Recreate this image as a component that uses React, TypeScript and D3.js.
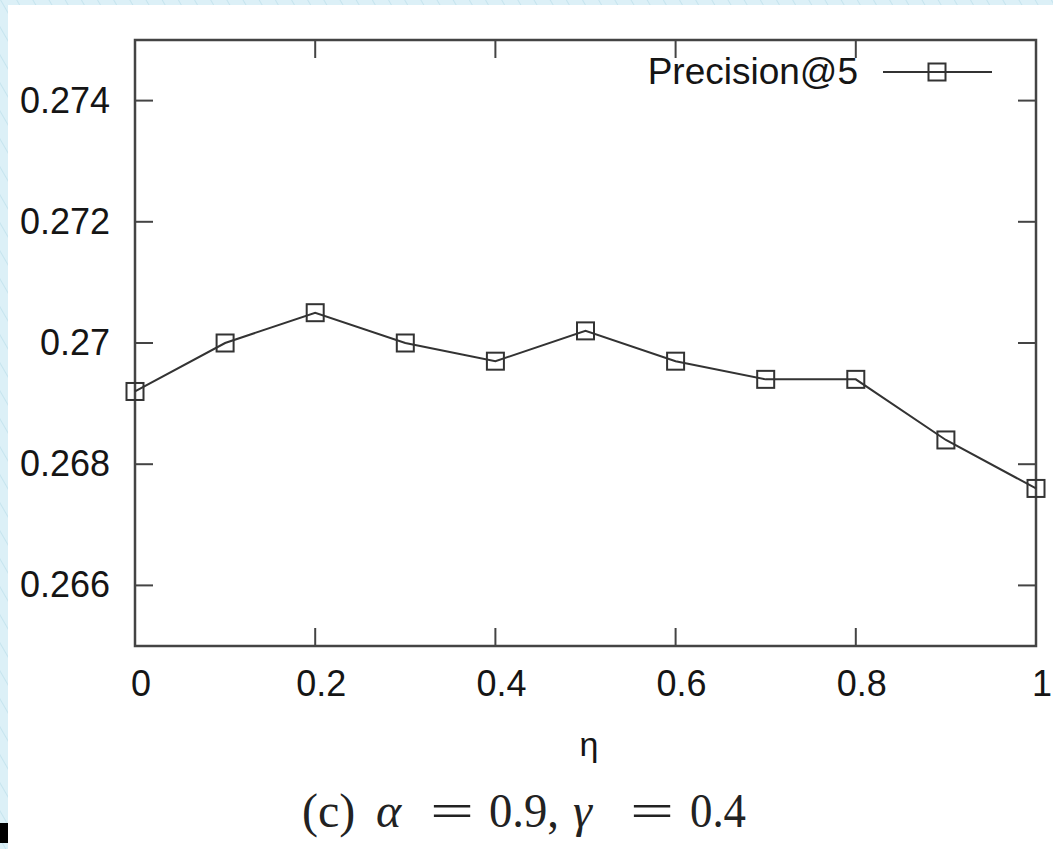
import React from "react";
import * as d3 from "d3";

const etaValues = [0, 0.1, 0.2, 0.3, 0.4, 0.5, 0.6, 0.7, 0.8, 0.9, 1.0];
const precisionAt5 = [0.2692, 0.27, 0.2705, 0.27, 0.2697, 0.2702, 0.2697, 0.2694, 0.2694, 0.2684, 0.2676];
const yTicks = [0.266, 0.268, 0.27, 0.272, 0.274];
const yTickLabels = ["0.266", "0.268", "0.27", "0.272", "0.274"];
const xTicks = [0, 0.2, 0.4, 0.6, 0.8, 1];
const xTickLabels = ["0", "0.2", "0.4", "0.6", "0.8", "1"];
const seriesName = "Precision@5";

const W = 1053;
const H = 849;
const L = 135, R = 1036, T = 40, B = 646;

export default function App() {
  const x = d3.scaleLinear().domain([0, 1]).range([L, R]);
  const y = d3.scaleLinear().domain([0.265, 0.275]).range([B, T]);
  const pts = etaValues.map((e, i) => [x(e), y(precisionAt5[i])] as [number, number]);
  const line = d3.line()(pts) || "";
  const tick = 18;
  const sq = 17;
  const font = "'Liberation Sans', Arial, sans-serif";
  const serif = "'Liberation Serif', 'DejaVu Serif', serif";
  const ink = "#151515";
  const frame = "#444";

  return (
    <svg width={W} height={H} style={{ position: "absolute", left: 0, top: 0, display: "block" }}>
      <defs>
        <pattern id="hatch" width="14" height="14" patternUnits="userSpaceOnUse" patternTransform="rotate(-30)">
          <rect width="14" height="14" fill="#dcf0f7" />
          <line x1="0" y1="0" x2="0" y2="14" stroke="#b8dce9" strokeWidth="1.2" />
        </pattern>
      </defs>
      <rect x={0} y={0} width={W} height={H} fill="url(#hatch)" />
      <rect x={8} y={5} width={W - 8} height={H - 5} fill="#fff" />
      <rect x={0} y={823} width={8} height={20} fill="#000" />

      {/* ticks */}
      {yTicks.map((t) => (
        <g key={"y" + t}>
          <line x1={L} x2={L + tick} y1={y(t)} y2={y(t)} stroke={frame} strokeWidth={2} />
          <line x1={R} x2={R - tick} y1={y(t)} y2={y(t)} stroke={frame} strokeWidth={2} />
        </g>
      ))}
      {xTicks.map((t) => (
        <g key={"x" + t}>
          <line x1={x(t)} x2={x(t)} y1={B} y2={B - tick} stroke={frame} strokeWidth={2} />
          <line x1={x(t)} x2={x(t)} y1={T} y2={T + tick} stroke={frame} strokeWidth={2} />
        </g>
      ))}
      <rect x={L} y={T} width={R - L} height={B - T} fill="none" stroke={frame} strokeWidth={2.5} />

      {/* tick labels */}
      {yTicks.map((t, i) => (
        <text key={"yl" + t} x={110} y={y(t) + 12} textAnchor="end" fontFamily={font} fontSize={36} fill={ink}>
          {yTickLabels[i]}
        </text>
      ))}
      {xTicks.map((t, i) => (
        <text key={"xl" + t} x={x(t) + 6} y={696} textAnchor="middle" fontFamily={font} fontSize={36} fill={ink}>
          {xTickLabels[i]}
        </text>
      ))}

      {/* data */}
      <path d={line} fill="none" stroke="#333" strokeWidth={2} />
      {pts.map(([px, py], i) => (
        <rect key={"m" + i} x={px - sq / 2} y={py - sq / 2} width={sq} height={sq} fill="none" stroke="#333" strokeWidth={2} />
      ))}

      {/* legend */}
      <text x={858} y={84} textAnchor="end" fontFamily={font} fontSize={37} fill={ink}>
        {seriesName}
      </text>
      <line x1={883} x2={992} y1={72} y2={72} stroke="#333" strokeWidth={2} />
      <rect x={937 - sq / 2} y={72 - sq / 2} width={sq} height={sq} fill="none" stroke="#333" strokeWidth={2} />

      {/* axis label */}
      <text x={589} y={756} textAnchor="middle" fontFamily={font} fontSize={34} fill={ink}>
        η
      </text>

      {/* caption */}
      <g fontFamily={serif} fontSize={48} fill="#222">
        <text x={302} y={827}>(c)</text>
        <text x={376} y={827} fontStyle="italic">α</text>
        <text x={430} y={827} textLength={44} lengthAdjust="spacingAndGlyphs">=</text>
        <text x={489} y={827} textLength={70} lengthAdjust="spacingAndGlyphs">0.9,</text>
        <text x={573} y={827} fontStyle="italic">γ</text>
        <text x={630} y={827} textLength={44} lengthAdjust="spacingAndGlyphs">=</text>
        <text x={690} y={827} textLength={56} lengthAdjust="spacingAndGlyphs">0.4</text>
      </g>
    </svg>
  );
}
